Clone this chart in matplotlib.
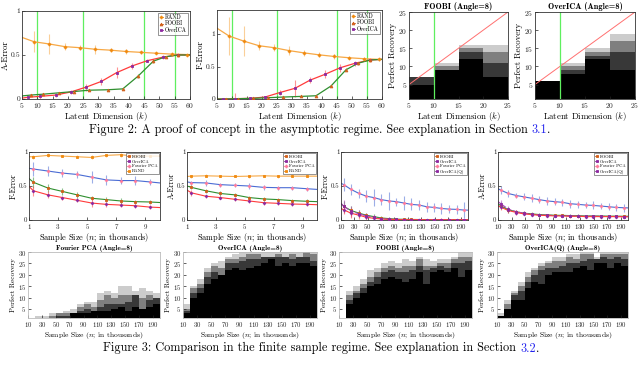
import numpy as np
import matplotlib
matplotlib.use('Agg')
import matplotlib.pyplot as plt
from matplotlib.lines import Line2D

plt.rcParams['font.family'] = ['cmr10', 'DejaVu Serif']
plt.rcParams['mathtext.fontset'] = 'cm'
plt.rcParams['axes.unicode_minus'] = False
plt.rcParams['axes.formatter.use_mathtext'] = True

# ---------------- data: Figure 2 (asymptotic regime) ----------------
k_rand = [5, 9, 14, 19, 24, 29, 34, 39, 44, 49, 54, 59, 60]
k_over = [5, 7, 11, 16, 21, 26, 31, 36, 41, 46, 51, 56, 60]
k_foobi = [5, 8, 12, 17, 22, 27, 33, 38, 43, 48, 52, 56, 60]
green_lines_k = [10, 25, 45, 55]

rand_aerr = [0.70, 0.65, 0.625, 0.595, 0.583, 0.565, 0.555, 0.54, 0.53, 0.52, 0.51, 0.505, 0.505]
rand_aerr_e = [0.12, 0.11, 0.04, 0.03, 0.05, 0.02, 0.03, 0.02, 0.01, 0.01, 0.01]
over_aerr = [0.01, 0.02, 0.03, 0.045, 0.08, 0.135, 0.2, 0.3, 0.375, 0.435, 0.475, 0.5, 0.5]
over_aerr_e = [0.01, 0.03, 0.02, 0.02, 0.04, 0.04, 0.06, 0.03, 0.02, 0.02, 0.02]
foobi_aerr = [0.035, 0.045, 0.055, 0.07, 0.085, 0.1, 0.105, 0.115, 0.26, 0.43, 0.48, 0.5, 0.5]
foobi_aerr_e = [0.01, 0.01, 0.01, 0.01, 0.01, 0.01, 0.01, 0.02, 0.02, 0.01, 0.01]

rand_ferr = [1.09, 0.97, 0.89, 0.82, 0.79, 0.745, 0.71, 0.68, 0.655, 0.635, 0.62, 0.61, 0.61]
rand_ferr_e = [0.29, 0.23, 0.07, 0.05, 0.07, 0.05, 0.04, 0.04, 0.02, 0.02, 0.02]
over_ferr = [0.0, 0.0, 0.005, 0.01, 0.03, 0.1, 0.165, 0.29, 0.38, 0.48, 0.55, 0.6, 0.61]
over_ferr_e = [0.01, 0.08, 0.01, 0.02, 0.04, 0.13, 0.05, 0.06, 0.06, 0.04, 0.03]
foobi_ferr = [0.0, 0.0, 0.005, 0.01, 0.02, 0.03, 0.04, 0.05, 0.2, 0.45, 0.55, 0.6, 0.61]
foobi_ferr_e = [0.005, 0.005, 0.01, 0.01, 0.01, 0.01, 0.01, 0.02, 0.02, 0.02, 0.01]

# heatmaps (per column: solid rows, dark rows, gray rows, light rows)
k_edges = [5, 10, 15, 20, 25]
rec_edges_top = list(range(1, 26))
foobi_top = [(4, 2, 0, 0), (8, 0, 1, 1), (11, 2, 1, 1), (6, 4, 3, 2)]
overica_top = [(5, 0, 0, 0), (7, 1, 1, 1), (11, 1, 1, 1), (8, 5, 3, 2)]

# ---------------- data: Figure 3 (finite sample regime) ----------------
n_small = [1.0, 1.3, 2.3, 3.3, 4.3, 5.3, 6.3, 7.3, 8.3, 9.3, 10.0]
rand_f_small = [0.93, 0.93, 0.95, 0.94, 0.93, 0.92, 0.95, 0.96, 0.94, 0.94, 0.94]
fpca_f_small = [0.76, 0.75, 0.72, 0.69, 0.67, 0.63, 0.59, 0.58, 0.58, 0.56, 0.545]
foobi_f_small = [0.61, 0.555, 0.47, 0.42, 0.37, 0.32, 0.30, 0.28, 0.27, 0.265, 0.257]
over_f_small = [0.495, 0.43, 0.37, 0.33, 0.29, 0.25, 0.23, 0.22, 0.21, 0.19, 0.183]
rand_f_small_e = [0.03, 0.03, 0.02, 0.02, 0.03, 0.02, 0.03, 0.02, 0.02]
fpca_f_small_e = [0.10, 0.07, 0.06, 0.05, 0.09, 0.07, 0.05, 0.06, 0.05]
foobi_f_small_e = [0.08, 0.06, 0.05, 0.04, 0.03, 0.04, 0.05, 0.03, 0.03]
over_f_small_e = [0.07, 0.05, 0.03, 0.03, 0.06, 0.04, 0.03, 0.03, 0.03]

rand_a_small = [0.64, 0.645, 0.65, 0.645, 0.64, 0.645, 0.65, 0.645, 0.645, 0.645, 0.645]
fpca_a_small = [0.56, 0.55, 0.545, 0.52, 0.51, 0.5, 0.48, 0.475, 0.475, 0.46, 0.45]
foobi_a_small = [0.5, 0.48, 0.43, 0.39, 0.37, 0.33, 0.31, 0.3, 0.285, 0.275, 0.27]
over_a_small = [0.44, 0.4, 0.35, 0.33, 0.305, 0.28, 0.255, 0.245, 0.235, 0.23, 0.225]
rand_a_small_e = [0.02, 0.02, 0.01, 0.01, 0.02, 0.01, 0.02, 0.01, 0.01]
fpca_a_small_e = [0.03, 0.04, 0.03, 0.03, 0.05, 0.04, 0.03, 0.03, 0.03]
foobi_a_small_e = [0.03, 0.03, 0.03, 0.02, 0.02, 0.03, 0.03, 0.02, 0.03]
over_a_small_e = [0.04, 0.02, 0.02, 0.03, 0.03, 0.03, 0.02, 0.03, 0.02]

n_big = [10, 14, 25, 37, 48, 59, 70, 82, 93, 104, 115, 127, 138, 149, 160, 172, 183, 194, 200]
fpca_f_big = [0.54, 0.52, 0.45, 0.39, 0.35, 0.33, 0.30, 0.28, 0.27, 0.25, 0.23, 0.22, 0.195, 0.185, 0.17, 0.16, 0.156, 0.146, 0.145]
over_f_big = [0.17, 0.15, 0.10, 0.07, 0.04, 0.025, 0.015, 0.01, 0.007, 0.005, 0.004, 0.004, 0.003, 0.003, 0.003, 0.003, 0.003, 0.003, 0.003]
foobi_f_big = [0.24, 0.20, 0.14, 0.10, 0.07, 0.05, 0.03, 0.02, 0.012, 0.01, 0.008, 0.007, 0.006, 0.005, 0.005, 0.005, 0.005, 0.005, 0.005]
overq_f_big = [0.25, 0.20, 0.13, 0.09, 0.06, 0.04, 0.02, 0.01, 0.008, 0.007, 0.006, 0.006, 0.005, 0.005, 0.005, 0.005, 0.005, 0.005, 0.005]
fpca_f_big_e = [0.10, 0.08, 0.07, 0.09, 0.12, 0.08, 0.13, 0.06, 0.10, 0.09, 0.08, 0.07, 0.07, 0.08, 0.06, 0.07, 0.12]
over_f_big_e = [0.06, 0.07, 0.05, 0.04, 0.03, 0.02, 0.02, 0.01, 0.01, 0.01, 0.01, 0.01, 0.01, 0.02, 0.01, 0.01, 0.01]
foobi_f_big_e = [0.08, 0.06, 0.05, 0.04, 0.04, 0.03, 0.03, 0.02, 0.02, 0.02, 0.01, 0.01, 0.01, 0.01, 0.01, 0.01, 0.01]
overq_f_big_e = [0.09, 0.08, 0.05, 0.05, 0.03, 0.03, 0.02, 0.02, 0.01, 0.01, 0.01, 0.01, 0.01, 0.01, 0.01, 0.01, 0.01]

fpca_a_big = [0.46, 0.44, 0.39, 0.36, 0.34, 0.32, 0.30, 0.28, 0.27, 0.26, 0.24, 0.23, 0.22, 0.215, 0.205, 0.195, 0.185, 0.18, 0.178]
over_a_big = [0.21, 0.19, 0.14, 0.11, 0.09, 0.08, 0.07, 0.065, 0.06, 0.06, 0.055, 0.055, 0.05, 0.05, 0.05, 0.05, 0.05, 0.048, 0.048]
foobi_a_big = [0.24, 0.21, 0.15, 0.12, 0.10, 0.09, 0.08, 0.075, 0.07, 0.068, 0.065, 0.063, 0.06, 0.06, 0.058, 0.057, 0.056, 0.055, 0.055]
overq_a_big = [0.27, 0.24, 0.16, 0.12, 0.10, 0.085, 0.075, 0.07, 0.065, 0.062, 0.06, 0.058, 0.056, 0.055, 0.054, 0.053, 0.052, 0.05, 0.05]
fpca_a_big_e = [0.06, 0.05, 0.04, 0.05, 0.06, 0.05, 0.06, 0.05, 0.05, 0.06, 0.05, 0.05, 0.06, 0.05, 0.05, 0.05, 0.06]
over_a_big_e = [0.04, 0.03, 0.03, 0.02, 0.02, 0.02, 0.02, 0.02, 0.02, 0.02, 0.02, 0.02, 0.02, 0.02, 0.02, 0.02, 0.02]
foobi_a_big_e = [0.05, 0.04, 0.03, 0.03, 0.03, 0.02, 0.02, 0.02, 0.02, 0.02, 0.02, 0.02, 0.02, 0.02, 0.02, 0.02, 0.02]
overq_a_big_e = [0.05, 0.04, 0.03, 0.03, 0.02, 0.02, 0.02, 0.02, 0.02, 0.02, 0.02, 0.02, 0.02, 0.02, 0.02, 0.02, 0.02]

n_edges = list(range(10, 201, 10))
rec_edges_bot = list(range(1, 31))
fpca_heat = [(0, 0, 0, 0), (0, 0, 0, 1), (0, 0, 0, 1), (0, 0, 1, 1), (0, 1, 1, 0), (0, 1, 1, 1),
             (2, 0, 0, 2), (2, 1, 2, 1), (2, 2, 2, 1), (3, 0, 2, 2), (3, 2, 3, 3), (3, 3, 4, 2),
             (4, 2, 3, 2), (5, 1, 4, 4), (3, 4, 3, 4), (5, 5, 0, 2), (4, 0, 5, 4), (5, 3, 2, 2), (6, 3, 0, 2)]
overica_heat = [(2, 1, 1, 2), (9, 2, 2, 1), (11, 2, 2, 2), (15, 3, 2, 2), (17, 3, 3, 1), (19, 0, 3, 3),
                (21, 3, 2, 1), (22, 2, 2, 2), (21, 4, 2, 2), (22, 4, 2, 1), (23, 3, 2, 1), (24, 3, 0, 2),
                (26, 1, 0, 2), (23, 4, 1, 1), (24, 3, 0, 2), (23, 3, 2, 1), (24, 3, 0, 2), (24, 3, 2, 0), (23, 2, 3, 1)]
foobi_heat = [(0, 0, 0, 0), (6, 2, 2, 2), (9, 2, 1, 2), (11, 2, 2, 2), (14, 2, 2, 3), (15, 3, 2, 2),
              (17, 3, 2, 2), (18, 3, 2, 2), (17, 3, 2, 2), (16, 4, 3, 3), (17, 4, 2, 2), (20, 3, 3, 1),
              (15, 6, 2, 3), (20, 2, 1, 2), (21, 2, 1, 2), (20, 2, 2, 2), (22, 2, 2, 1), (18, 6, 3, 2), (21, 4, 2, 2)]
overq_heat = [(1, 0, 0, 1), (4, 0, 2, 2), (8, 2, 1, 1), (8, 4, 2, 2), (13, 3, 2, 2), (16, 3, 2, 1),
              (15, 6, 2, 1), (19, 3, 2, 1), (20, 2, 3, 2), (20, 3, 2, 2), (20, 4, 3, 1), (22, 2, 2, 2),
              (23, 2, 3, 1), (21, 5, 2, 1), (24, 2, 0, 1), (24, 3, 1, 1), (22, 4, 2, 1), (24, 3, 1, 1), (23, 3, 2, 1)]
shade_levels = [1.0, 0.78, 0.5, 0.2]   # solid, dark, gray, light

# ---------------- style ----------------
C_RAND = '#f7a845'
C_RED = '#ff3b3b'
C_GREEN = '#2f8f2f'
C_BLUE = '#4a6cd4'
M_FOOBI = '#d2601a'
M_OVER = '#8e2aa0'
M_FPCA = '#ff7c9c'
M_RAND = '#f08a10'
C_VLINE = '#5fef5f'
SPINE = '#333333'

W, H = 640, 366
fig = plt.figure(figsize=(6.4, 3.66), dpi=100)


def ax_px(x0, x1, y0, y1):
    return fig.add_axes([x0 / W, 1 - y1 / H, (x1 - x0) / W, (y1 - y0) / H])


def style(ax, fs, pad=1.2, xpad=None):
    ax.tick_params(direction='in', length=2, width=0.5, labelsize=fs, pad=pad, colors='#222222')
    if xpad is not None:
        ax.tick_params(axis='x', pad=xpad)
    for s in ax.spines.values():
        s.set_linewidth(0.6)
        s.set_color(SPINE)


def series(ax, x, y, err, lc, marker, mc, ms=2.2, ls='-', lw=0.9):
    ax.plot(x, y, color=lc, lw=lw, ls=ls, zorder=2)
    ax.errorbar(x[1:-1], y[1:-1], yerr=err, fmt='none', ecolor=lc, alpha=0.55,
                elinewidth=0.8, capsize=0, zorder=1)
    ax.plot(x[1:-1], y[1:-1], ls='none', marker=marker, color=mc, ms=ms,
            mew=0.6, zorder=3)


def legend(ax, entries, fs, loc='upper right'):
    handles = [Line2D([0], [0], color=c, marker=m, ms=2.0, lw=0.6, mew=0.6)
               for (_, m, c) in entries]
    lg = ax.legend(handles, [e[0] for e in entries], loc=loc, fontsize=fs,
                   handlelength=0.7, handletextpad=0.3, borderpad=0.25,
                   labelspacing=0.15, frameon=True, fancybox=False,
                   borderaxespad=0.3)
    lg.get_frame().set_edgecolor('#444444')
    lg.get_frame().set_linewidth(0.5)


def heat_matrix(table, nrows):
    M = np.zeros((nrows, len(table)))
    for c, counts in enumerate(table):
        r = 0
        for cnt, lev in zip(counts, shade_levels):
            M[r:r + cnt, c] = lev
            r += cnt
    return M


top_leg = [('RAND', 'P', M_RAND), ('FOOBI', '^', M_FOOBI), ('OverICA', 's', M_OVER)]
TOP_TICK = 5.4
TOP_LAB = 6.3
TOP_LPAD = 0.5

# ---- Figure 2 panel 1 : A-Error ----
ax = ax_px(22, 190, 11, 99)
for g in green_lines_k:
    ax.axvline(g, color=C_VLINE, lw=0.9, zorder=0)
series(ax, k_rand, rand_aerr, rand_aerr_e, C_RAND, 'P', M_RAND, ms=2.0)
series(ax, k_over, over_aerr, over_aerr_e, C_RED, 's', M_OVER, ms=1.8)
series(ax, k_foobi, foobi_aerr, foobi_aerr_e, C_GREEN, '^', M_FOOBI, ms=2.0)
ax.set_xlim(5, 60)
ax.set_ylim(0, 1)
ax.set_xticks(range(5, 61, 5))
ax.set_yticks([0, 0.5, 1])
ax.set_yticklabels(['0', '0.5', '1'])
ax.set_ylabel('A-Error', fontsize=TOP_LAB, labelpad=0.5)
ax.set_xlabel('Latent Dimension ($k$)', fontsize=TOP_LAB, labelpad=TOP_LPAD)
style(ax, TOP_TICK)
legend(ax, top_leg, 4.0)

# ---- Figure 2 panel 2 : F-Error ----
ax = ax_px(217, 382, 10, 99)
for g in green_lines_k:
    ax.axvline(g, color=C_VLINE, lw=0.9, zorder=0)
series(ax, k_rand, rand_ferr, rand_ferr_e, C_RAND, 'P', M_RAND, ms=2.0)
series(ax, k_over, over_ferr, over_ferr_e, C_RED, 's', M_OVER, ms=1.8)
series(ax, k_foobi, foobi_ferr, foobi_ferr_e, C_GREEN, '^', M_FOOBI, ms=2.0)
ax.set_xlim(5, 60)
ax.set_ylim(0, 1.37)
ax.set_xticks(range(5, 61, 5))
ax.set_yticks([0, 0.5, 1])
ax.set_yticklabels(['0', '0.5', '1'])
ax.set_ylabel('F-Error', fontsize=TOP_LAB, labelpad=1)
ax.set_xlabel('Latent Dimension ($k$)', fontsize=TOP_LAB, labelpad=TOP_LPAD)
style(ax, TOP_TICK)
legend(ax, top_leg, 4.0)

# ---- Figure 2 heatmaps ----
for (x0, x1, title, table) in [(409, 508, 'FOOBI (Angle=8)', foobi_top),
                               (535, 635, 'OverICA (Angle=8)', overica_top)]:
    ax = ax_px(x0, x1, 12, 99)
    M = heat_matrix(table, len(rec_edges_top) - 1)
    ax.pcolormesh(k_edges, rec_edges_top, M, cmap='gray_r', vmin=0, vmax=1)
    ax.plot([5, 25], [5, 25], color='#ff7070', lw=0.7)
    ax.axvline(10, color=C_VLINE, lw=0.9)
    ax.set_xlim(5, 25)
    ax.set_ylim(1, 25)
    ax.set_xticks([5, 10, 15, 20, 25])
    ax.set_yticks([5, 10, 15, 20, 25])
    ax.set_ylabel('Perfect Recovery', fontsize=TOP_LAB, labelpad=1)
    ax.set_xlabel('Latent Dimension ($k$)', fontsize=TOP_LAB, labelpad=TOP_LPAD)
    ax.set_title(title, fontsize=6.0, pad=2.0, family='cmb10')
    style(ax, TOP_TICK)

# caption Figure 2
CAP = 8.8
t1 = fig.text(89 / W, 1 - 133 / H,
              'Figure 2: A proof of concept in the asymptotic regime. See explanation in Section ',
              fontsize=CAP, ha='left', va='baseline')
a2 = plt.annotate('3.1', xy=(1, 0), xycoords=t1, ha='left', va='bottom', fontsize=CAP,
                  color='#2222ee', annotation_clip=False)
plt.annotate('.', xy=(1, 0), xycoords=a2, ha='left', va='bottom', fontsize=CAP,
             annotation_clip=False)

# ---- Figure 3 row 2 ----
small_leg = [('FOOBI', 's', M_FOOBI), ('OverICA', 's', M_OVER), ('Fourier PCA', 'P', M_FPCA), ('RAND', 's', M_RAND)]
big_leg = [('FOOBI', 's', M_FOOBI), ('OverICA', 's', M_OVER), ('Fourier PCA', 'P', M_FPCA), ('OverICA(Q)', 's', M_OVER)]

row2 = [
    (29, 160, 'F-Error', n_small,
     [(rand_f_small, rand_f_small_e, C_RAND, 's', M_RAND, '-'),
      (fpca_f_small, fpca_f_small_e, C_BLUE, 'P', M_FPCA, '-'),
      (foobi_f_small, foobi_f_small_e, C_GREEN, 's', M_FOOBI, '-'),
      (over_f_small, over_f_small_e, C_RED, 'P', M_OVER, '-')], small_leg),
    (187, 317, 'A-Error', n_small,
     [(rand_a_small, rand_a_small_e, C_RAND, 's', M_RAND, '-'),
      (fpca_a_small, fpca_a_small_e, C_BLUE, 'P', M_FPCA, '-'),
      (foobi_a_small, foobi_a_small_e, C_GREEN, 's', M_FOOBI, '-'),
      (over_a_small, over_a_small_e, C_RED, 'P', M_OVER, '-')], small_leg),
    (341, 468, 'F-Error', n_big,
     [(fpca_f_big, fpca_f_big_e, C_BLUE, 'P', M_FPCA, '-'),
      (foobi_f_big, foobi_f_big_e, C_GREEN, 's', M_FOOBI, '-'),
      (overq_f_big, overq_f_big_e, '#b040c0', 's', M_OVER, '--'),
      (over_f_big, over_f_big_e, C_RED, 'P', M_OVER, '-')], big_leg),
    (498, 628, 'A-Error', n_big,
     [(fpca_a_big, fpca_a_big_e, C_BLUE, 'P', M_FPCA, '-'),
      (foobi_a_big, foobi_a_big_e, C_GREEN, 's', M_FOOBI, '-'),
      (overq_a_big, overq_a_big_e, '#b040c0', 's', M_OVER, '--'),
      (over_a_big, over_a_big_e, C_RED, 'P', M_OVER, '-')], big_leg),
]
for (x0, x1, ylab, xs, lines, leg) in row2:
    ax = ax_px(x0, x1, 152, 220)
    for (vals, errs, lc, mk, mc, ls) in lines:
        series(ax, xs, vals, errs, lc, mk, mc, ms=1.8, ls=ls, lw=0.8)
    if xs is n_small:
        ax.set_xlim(1, 10)
        ax.set_xticks([1, 3, 5, 7, 9])
    else:
        ax.set_xlim(10, 200)
        ax.set_xticks(list(range(10, 200, 20)))
    ax.set_ylim(0, 1)
    ax.set_yticks([0, 0.5, 1])
    ax.set_yticklabels(['0', '0.5', '1'])
    ax.set_ylabel(ylab, fontsize=5.6, labelpad=1)
    ax.set_xlabel('Sample Size ($n$; in thousands)', fontsize=6.0, labelpad=0.0)
    style(ax, 5.0, pad=1.0, xpad=1.6)
    legend(ax, leg, 3.2)

# ---- Figure 3 row 3 heatmaps ----
row3 = [(28, 160, 'Fourier PCA (Angle=8)', fpca_heat),
        (183, 317, 'OverICA (Angle=8)', overica_heat),
        (339, 472, 'FOOBI (Angle=8)', foobi_heat),
        (497, 628, 'OverICA(Q) (Angle=8)', overq_heat)]
for (x0, x1, title, table) in row3:
    ax = ax_px(x0, x1, 252, 318)
    M = heat_matrix(table, len(rec_edges_bot) - 1)
    ax.pcolormesh(n_edges, rec_edges_bot, M, cmap='gray_r', vmin=0, vmax=1)
    ax.set_xlim(10, 200)
    ax.set_ylim(1, 30)
    ax.set_xticks(list(range(10, 200, 20)))
    ax.set_yticks([5, 10, 15, 20, 25, 30])
    ax.set_ylabel('Perfect Recovery', fontsize=5.2, labelpad=1)
    ax.set_xlabel('Sample Size ($n$; in thousands)', fontsize=5.4, labelpad=0.8)
    ax.set_title(title, fontsize=5.2, pad=1.0, family='cmb10')
    style(ax, 4.8, pad=1.5)
    for s in ax.spines.values():
        s.set_color('#bbbbbb')

# caption Figure 3
t4 = fig.text(103 / W, 1 - 351.5 / H,
              'Figure 3: Comparison in the finite sample regime. See explanation in Section ',
              fontsize=CAP, ha='left', va='baseline')
a5 = plt.annotate('3.2', xy=(1, 0), xycoords=t4, ha='left', va='bottom', fontsize=CAP,
                  color='#2222ee', annotation_clip=False)
plt.annotate('.', xy=(1, 0), xycoords=a5, ha='left', va='bottom', fontsize=CAP,
             annotation_clip=False)

fig.savefig('out.png', dpi=100)
